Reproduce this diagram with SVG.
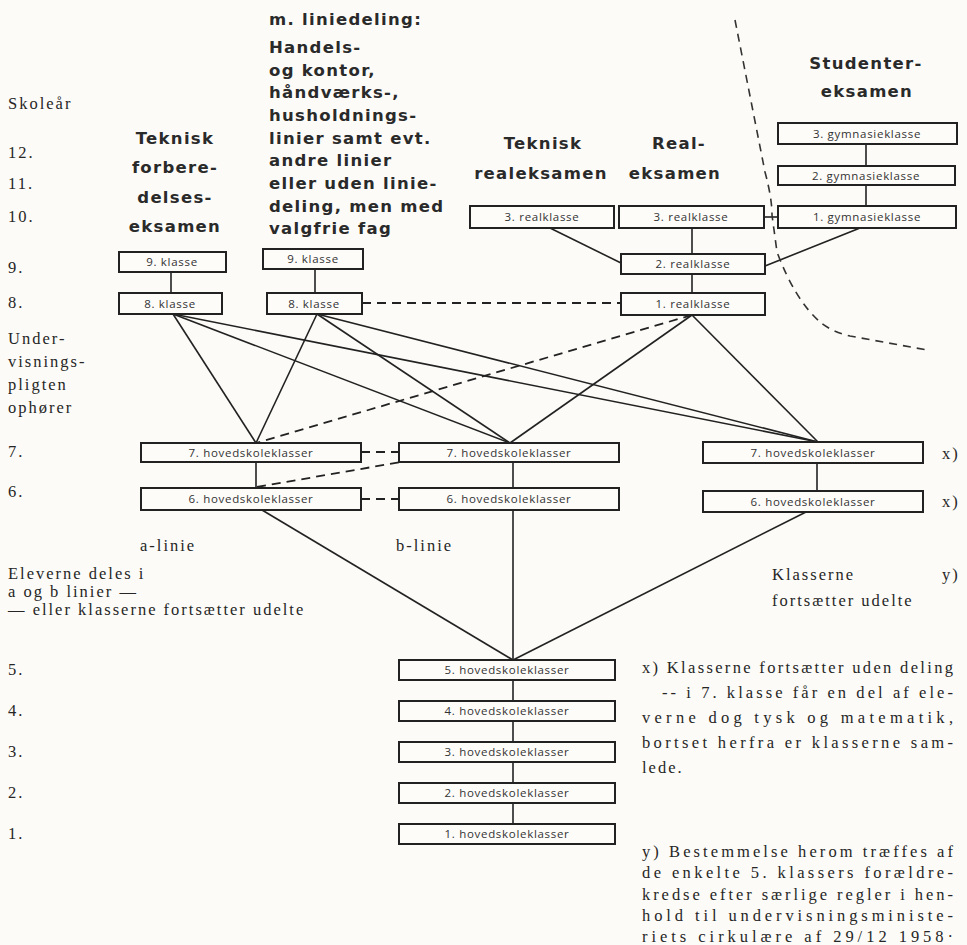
<svg xmlns="http://www.w3.org/2000/svg" width="967" height="945" viewBox="0 0 967 945">
<defs>
<style>
.bg{fill:#fcfbf7}
.box{fill:#fdfcf9;stroke:#222;stroke-width:2}
.bl{font-family:"Open Sans","Lato",sans-serif;font-size:11.5px;fill:#333;text-anchor:middle;letter-spacing:0.7px}
.hd{font-family:"DejaVu Sans",sans-serif;font-weight:bold;font-size:16.5px;fill:#2a2a2a;letter-spacing:1.3px}
.hm{text-anchor:middle}
.sf{font-family:"Liberation Serif",serif;font-size:16.5px;fill:#262626;letter-spacing:2px}
.ln{stroke:#222;stroke-width:1.6;fill:none}
.ds{stroke:#222;stroke-width:1.8;fill:none;stroke-dasharray:9 6}
.cv{stroke:#333;stroke-width:1.6;fill:none;stroke-dasharray:8 6}
</style>
</defs>
<rect class="bg" x="0" y="0" width="967" height="945"/>

<g id="connectors">
<line class="ln" x1="171" y1="272" x2="171" y2="293"/>
<line class="ln" x1="315" y1="269" x2="315" y2="293"/>
<line class="ds" x1="362" y1="303" x2="621" y2="303"/>
<line class="ln" x1="550" y1="228" x2="621" y2="263"/>
<line class="ln" x1="692" y1="228" x2="692" y2="254"/>
<line class="ln" x1="692" y1="274" x2="692" y2="293"/>
<line class="ln" x1="860" y1="228" x2="765" y2="266"/>
<line class="ln" x1="764" y1="217" x2="778" y2="217"/>
<line class="ln" x1="866" y1="144" x2="866" y2="166"/>
<line class="ln" x1="866" y1="185" x2="866" y2="206"/>
<line class="ln" x1="173" y1="314" x2="256" y2="443"/>
<line class="ln" x1="173" y1="314" x2="510" y2="443"/>
<line class="ln" x1="173" y1="314" x2="818" y2="442"/>
<line class="ln" x1="317" y1="314" x2="256" y2="443"/>
<line class="ln" x1="317" y1="314" x2="510" y2="443"/>
<line class="ln" x1="317" y1="314" x2="818" y2="442"/>
<line class="ln" x1="692" y1="315" x2="510" y2="443"/>
<line class="ln" x1="692" y1="315" x2="818" y2="442"/>
<line class="ds" x1="692" y1="315" x2="256" y2="443"/>
<line class="ln" x1="256" y1="462" x2="256" y2="488"/>
<line class="ln" x1="513" y1="462" x2="513" y2="488"/>
<line class="ln" x1="817" y1="463" x2="817" y2="491"/>
<line class="ds" x1="361" y1="452" x2="399" y2="452"/>
<line class="ds" x1="361" y1="499" x2="399" y2="499"/>
<line class="ds" x1="257" y1="487" x2="401" y2="462"/>
<line class="ln" x1="262" y1="510" x2="513" y2="660"/>
<line class="ln" x1="513" y1="510" x2="513" y2="660"/>
<line class="ln" x1="806" y1="512" x2="513" y2="660"/>
<line class="ln" x1="513" y1="680" x2="513" y2="701"/>
<line class="ln" x1="513" y1="721" x2="513" y2="742"/>
<line class="ln" x1="513" y1="762" x2="513" y2="783"/>
<line class="ln" x1="513" y1="803" x2="513" y2="824"/>
<path class="cv" d="M735,20 L765,172 Q772,198 772,215 L777,252 Q795,300 820,322 Q832,332 850,336 L927,350"/>
</g>

<g id="n-g3"><rect class="box" x="778" y="123" width="179" height="21"/><text class="bl" x="867" y="138">3. gymnasieklasse</text></g>
<g id="n-g2"><rect class="box" x="778" y="166" width="177" height="19"/><text class="bl" x="866" y="180">2. gymnasieklasse</text></g>
<g id="n-g1"><rect class="box" x="778" y="206" width="178" height="22"/><text class="bl" x="867" y="221">1. gymnasieklasse</text></g>
<g id="n-r3a"><rect class="box" x="470" y="206" width="144" height="22"/><text class="bl" x="542" y="221">3. realklasse</text></g>
<g id="n-r3b"><rect class="box" x="619" y="206" width="145" height="22"/><text class="bl" x="691" y="221">3. realklasse</text></g>
<g id="n-r2"><rect class="box" x="621" y="254" width="144" height="20"/><text class="bl" x="693" y="268">2. realklasse</text></g>
<g id="n-r1"><rect class="box" x="621" y="293" width="144" height="22"/><text class="bl" x="693" y="308">1. realklasse</text></g>
<g id="n-k9a"><rect class="box" x="119" y="252" width="107" height="20"/><text class="bl" x="172" y="266">9. klasse</text></g>
<g id="n-k8a"><rect class="box" x="119" y="293" width="103" height="21"/><text class="bl" x="170" y="308">8. klasse</text></g>
<g id="n-k9b"><rect class="box" x="263" y="249" width="100" height="20"/><text class="bl" x="313" y="263">9. klasse</text></g>
<g id="n-k8b"><rect class="box" x="267" y="293" width="95" height="21"/><text class="bl" x="314" y="308">8. klasse</text></g>
<g id="n-h7a"><rect class="box" x="141" y="443" width="220" height="19"/><text class="bl" x="251" y="457">7. hovedskoleklasser</text></g>
<g id="n-h7b"><rect class="box" x="399" y="443" width="220" height="19"/><text class="bl" x="509" y="457">7. hovedskoleklasser</text></g>
<g id="n-h7c"><rect class="box" x="703" y="442" width="220" height="21"/><text class="bl" x="813" y="457">7. hovedskoleklasser</text></g>
<g id="n-h6a"><rect class="box" x="141" y="488" width="220" height="22"/><text class="bl" x="251" y="503">6. hovedskoleklasser</text></g>
<g id="n-h6b"><rect class="box" x="399" y="488" width="220" height="22"/><text class="bl" x="509" y="503">6. hovedskoleklasser</text></g>
<g id="n-h6c"><rect class="box" x="703" y="491" width="220" height="21"/><text class="bl" x="813" y="506">6. hovedskoleklasser</text></g>
<g id="n-h5"><rect class="box" x="399" y="660" width="216" height="20"/><text class="bl" x="507" y="674">5. hovedskoleklasser</text></g>
<g id="n-h4"><rect class="box" x="399" y="701" width="216" height="20"/><text class="bl" x="507" y="715">4. hovedskoleklasser</text></g>
<g id="n-h3"><rect class="box" x="399" y="742" width="216" height="20"/><text class="bl" x="507" y="756">3. hovedskoleklasser</text></g>
<g id="n-h2"><rect class="box" x="399" y="783" width="216" height="20"/><text class="bl" x="507" y="797">2. hovedskoleklasser</text></g>
<g id="n-h1"><rect class="box" x="399" y="824" width="216" height="20"/><text class="bl" x="507" y="838">1. hovedskoleklasser</text></g>

<g id="headings">
<text class="hd" x="269" y="25">m. liniedeling:</text>
<text class="hd" x="269" y="53">Handels-</text>
<text class="hd" x="269" y="76">og kontor,</text>
<text class="hd" x="269" y="98">håndværks-,</text>
<text class="hd" x="269" y="121">husholdnings-</text>
<text class="hd" x="269" y="144">linier samt evt.</text>
<text class="hd" x="269" y="166">andre linier</text>
<text class="hd" x="269" y="189">eller uden linie-</text>
<text class="hd" x="269" y="212">deling, men med</text>
<text class="hd" x="269" y="234">valgfrie fag</text>
<text class="hd hm" x="175" y="144">Teknisk</text>
<text class="hd hm" x="175" y="173">forbere-</text>
<text class="hd hm" x="175" y="203">delses-</text>
<text class="hd hm" x="175" y="232">eksamen</text>
<text class="hd hm" x="543" y="149">Teknisk</text>
<text class="hd hm" x="541" y="179">realeksamen</text>
<text class="hd hm" x="679" y="149">Real-</text>
<text class="hd hm" x="675" y="179">eksamen</text>
<text class="hd hm" x="866" y="69">Studenter-</text>
<text class="hd hm" x="867" y="97">eksamen</text>
</g>

<g id="labels">
<text class="sf" x="8" y="109">Skoleår</text>
<text class="sf" x="8" y="158">12.</text>
<text class="sf" x="8" y="189">11.</text>
<text class="sf" x="8" y="222">10.</text>
<text class="sf" x="8" y="273">9.</text>
<text class="sf" x="8" y="308">8.</text>
<text class="sf" x="8" y="344">Under-</text>
<text class="sf" x="8" y="367">visnings-</text>
<text class="sf" x="8" y="390">pligten</text>
<text class="sf" x="8" y="413">ophører</text>
<text class="sf" x="8" y="457">7.</text>
<text class="sf" x="8" y="497">6.</text>
<text class="sf" x="8" y="675">5.</text>
<text class="sf" x="8" y="716">4.</text>
<text class="sf" x="8" y="757">3.</text>
<text class="sf" x="8" y="798">2.</text>
<text class="sf" x="8" y="839">1.</text>
<text class="sf" x="140" y="551">a-linie</text>
<text class="sf" x="396" y="551">b-linie</text>
<text class="sf" x="8" y="579">Eleverne deles i</text>
<text class="sf" x="8" y="597">a og b linier —</text>
<text class="sf" x="8" y="615">— eller klasserne fortsætter udelte</text>
<text class="sf" x="942" y="459">x)</text>
<text class="sf" x="942" y="507">x)</text>
<text class="sf" x="772" y="580">Klasserne</text>
<text class="sf" x="942" y="580">y)</text>
<text class="sf" x="772" y="606">fortsætter udelte</text>
<text class="sf" x="642" y="673" textLength="313" lengthAdjust="spacing">x) Klasserne fortsætter uden deling</text>
<text class="sf" x="662" y="698" textLength="293" lengthAdjust="spacing">-- i 7. klasse får en del af ele-</text>
<text class="sf" x="642" y="723" textLength="313" lengthAdjust="spacing">verne dog tysk og matematik,</text>
<text class="sf" x="642" y="748" textLength="313" lengthAdjust="spacing">bortset herfra er klasserne sam-</text>
<text class="sf" x="642" y="773">lede.</text>
<text class="sf" x="642" y="857" textLength="313" lengthAdjust="spacing">y) Bestemmelse herom træffes af</text>
<text class="sf" x="642" y="878" textLength="313" lengthAdjust="spacing">de enkelte 5. klassers forældre-</text>
<text class="sf" x="642" y="900" textLength="313" lengthAdjust="spacing">kredse efter særlige regler i hen-</text>
<text class="sf" x="642" y="921" textLength="313" lengthAdjust="spacing">hold til undervisningsministe-</text>
<text class="sf" x="642" y="942" textLength="313" lengthAdjust="spacing">riets cirkulære af 29/12 1958·</text>
</g>
</svg>
